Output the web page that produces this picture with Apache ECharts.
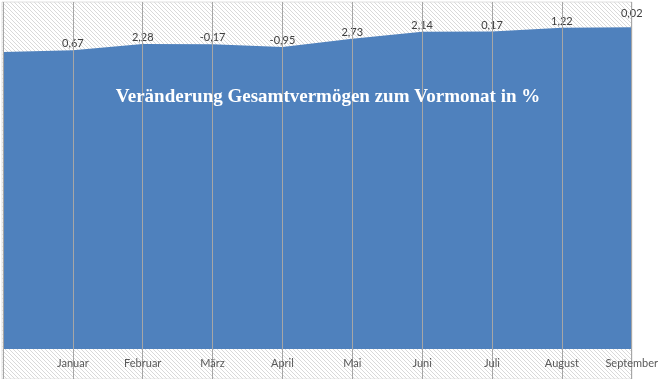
<!DOCTYPE html>
<html>
<head>
<meta charset="utf-8">
<script src="https://cdn.jsdelivr.net/npm/echarts@6/dist/echarts.min.js"></script>
<style>html,body{margin:0;padding:0;background:#fff}#c{width:661px;height:379px}</style>
</head>
<body>
<div id="c"></div>
<script>
const categories = ['', 'Januar', 'Februar', 'März', 'April', 'Mai', 'Juni', 'Juli', 'August', 'September'];
const wealthValues = [85.6, 86.1, 87.9, 87.8, 87.0, 89.4, 91.4, 91.5, 92.6, 92.7];
const changeLabels = ['', '0,67', '2,28', '-0,17', '-0,95', '2,73', '2,14', '0,17', '1,22', '0,02'];
const titleText = 'Veränderung Gesamtvermögen zum Vormonat in %';

function makeHatch() {
  const c = document.createElement('canvas');
  c.width = 4; c.height = 4;
  const g = c.getContext('2d');
  g.fillStyle = '#ffffff';
  g.fillRect(0, 0, 4, 4);
  g.fillStyle = '#d9d9d9';
  for (let i = 0; i < 4; i++) g.fillRect(i, i, 1, 1);
  return c;
}

const chart = echarts.init(document.getElementById('c'), null, {renderer: 'canvas'});
const seriesData = wealthValues.map((v, i) => {
  const item = {value: v};
  if (i === wealthValues.length - 1) item.label = {offset: [0, -7]};
  return item;
});
chart.setOption({
  animation: false,
  backgroundColor: '#ffffff',
  grid: {left: 3, right: 29, top: 2, bottom: 30, containLabel: false},
  graphic: [
    {type: 'rect', z: -10, silent: true,
     shape: {x: 2, y: 2, width: 630, height: 377},
     style: {fill: {image: makeHatch(), repeat: 'repeat'}, stroke: '#e0e0e0', lineWidth: 1}},
    {type: 'text', z: 50, silent: true, x: 328, y: 97,
     style: {text: titleText, fill: '#ffffff', font: 'bold 19px "Liberation Serif"', align: 'center', verticalAlign: 'middle'}}
  ],
  xAxis: {
    type: 'category', data: categories, boundaryGap: false, z: 10,
    axisLine: {show: false},
    axisTick: {show: true, length: 30, lineStyle: {color: '#a6a6a6', width: 1}},
    splitLine: {show: true, lineStyle: {color: '#a6a6a6', width: 1}},
    axisLabel: {color: '#595959', fontFamily: 'Lato', fontSize: 11, margin: 9, interval: 0}
  },
  yAxis: {type: 'value', min: 0, max: 100, show: false},
  series: [{
    type: 'line', data: seriesData, symbol: 'circle', symbolSize: 0, showSymbol: true, smooth: false,
    lineStyle: {width: 0, color: '#4f81bd'},
    itemStyle: {color: '#4f81bd'},
    areaStyle: {color: '#4f81bd', opacity: 1},
    label: {show: true, position: 'top', distance: 1, color: '#404040', fontFamily: 'Lato', fontSize: 11,
      formatter: p => changeLabels[p.dataIndex]}
  }]
});
</script>
</body>
</html>
